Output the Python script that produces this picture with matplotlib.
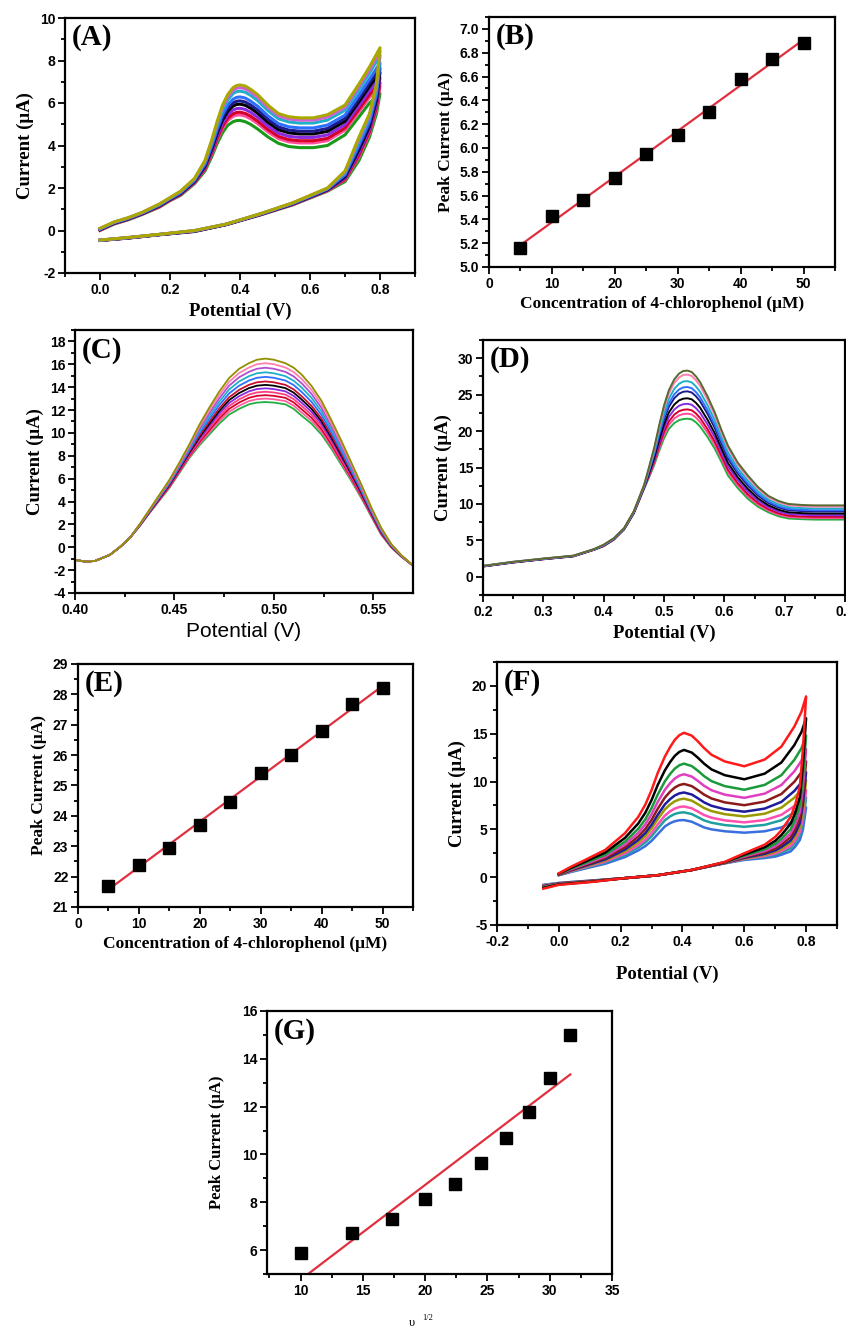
import numpy as np
import matplotlib
matplotlib.use('Agg')
import matplotlib.pyplot as plt
from matplotlib.ticker import MultipleLocator, AutoMinorLocator, FormatStrFormatter

plt.rcParams['font.family'] = ['Liberation Sans', 'DejaVu Sans']
plt.rcParams['font.weight'] = 'bold'
plt.rcParams['font.size'] = 10
plt.rcParams['axes.unicode_minus'] = False
SERIF = ['Liberation Serif', 'DejaVu Serif']

# ---------- calibration data (B, E, G) ----------
conc = [5, 10, 15, 20, 25, 30, 35, 40, 45, 50]
peakB = [5.16, 5.43, 5.56, 5.75, 5.95, 6.11, 6.30, 6.58, 6.75, 6.88]
peakE = [21.69, 22.37, 22.95, 23.71, 24.46, 25.40, 25.99, 26.79, 27.68, 28.22]
sqrt_rate = [10.0, 14.1, 17.3, 20.0, 22.4, 24.5, 26.5, 28.3, 30.05, 31.65]
peakG = [5.89, 6.70, 7.31, 8.12, 8.77, 9.66, 10.67, 11.78, 13.21, 15.0]

# ---------- (A) CV, lowest and highest traces ----------
potA_fwd = [0.0, 0.04, 0.08, 0.12, 0.17, 0.20, 0.23, 0.27, 0.30, 0.32, 0.335, 0.35,
            0.365, 0.38, 0.39, 0.40, 0.415, 0.43, 0.45, 0.48, 0.51, 0.54, 0.57, 0.61,
            0.65, 0.70, 0.74, 0.77, 0.80]
lowA_fwd = [0.0, 0.3, 0.5, 0.75, 1.1, 1.4, 1.65, 2.2, 2.8, 3.5, 4.1, 4.6,
            4.95, 5.12, 5.17, 5.18, 5.12, 5.0, 4.78, 4.4, 4.1, 3.95, 3.9, 3.9,
            4.0, 4.5, 5.35, 6.0, 6.45]
highA_fwd = [0.1, 0.4, 0.6, 0.85, 1.25, 1.55, 1.85, 2.45, 3.3, 4.3, 5.15, 5.9,
             6.4, 6.72, 6.82, 6.85, 6.8, 6.65, 6.4, 5.9, 5.5, 5.35, 5.3, 5.3,
             5.45, 5.9, 6.9, 7.7, 8.6]
potA_rev = [0.80, 0.79, 0.77, 0.74, 0.70, 0.65, 0.55, 0.46, 0.36, 0.27, 0.17, 0.08, 0.0]
lowA_rev = [6.45, 5.5, 4.4, 3.3, 2.3, 1.85, 1.2, 0.74, 0.27, -0.05, -0.2, -0.36, -0.47]
highA_rev = [8.6, 6.9, 5.5, 4.4, 2.8, 2.0, 1.3, 0.8, 0.3, 0.0, -0.18, -0.33, -0.45]
colorsA = ['#1a9a1a', '#ff4f9a', '#d4002a', '#8a2be2', '#000000', '#1c1c8c',
           '#2f6fff', '#1fb0c8', '#d35fd3', '#a8a800']

# ---------- (C) DPV ----------
potC = [0.400, 0.405, 0.410, 0.4175, 0.4225, 0.4275, 0.4325, 0.4375, 0.4425, 0.4475,
        0.4525, 0.4575, 0.4625, 0.4675, 0.4725, 0.4775, 0.4825, 0.4875, 0.4915, 0.4958,
        0.5000, 0.5058, 0.5100, 0.5140, 0.519, 0.524, 0.529, 0.534, 0.539, 0.544,
        0.549, 0.554, 0.559, 0.564, 0.570]
highC = [-1.1, -1.25, -1.2, -0.67, 0.0, 0.8, 2.0, 3.3, 4.6, 5.9,
         7.4, 9.0, 10.7, 12.2, 13.6, 14.8, 15.6, 16.1, 16.4, 16.5,
         16.4, 16.1, 15.7, 15.1, 14.1, 12.8, 11.1, 9.3, 7.4, 5.5,
         3.5, 1.7, 0.3, -0.67, -1.6]
lowC = [-1.1, -1.25, -1.2, -0.67, 0.0, 0.8, 1.85, 3.0, 4.1, 5.2,
        6.5, 7.8, 8.9, 9.85, 10.8, 11.6, 12.1, 12.5, 12.65, 12.7,
        12.65, 12.5, 12.1, 11.5, 10.8, 9.85, 8.6, 7.2, 5.8, 4.3,
        2.7, 1.1, 0.0, -0.8, -1.6]
peaksC = [12.7, 13.0, 13.3, 13.6, 13.9, 14.2, 14.5, 14.9, 15.3, 15.7, 16.1, 16.5]
colorsC = ['#20b040', '#ff5fa0', '#d4002a', '#ff3f7f', '#8a2be2', '#000000',
           '#c8102e', '#2f6fff', '#1fb0c8', '#b04fd0', '#ff80b0', '#909000']

# ---------- (D) DPV ----------
potD = [0.20, 0.25, 0.30, 0.35, 0.384, 0.40, 0.417, 0.434, 0.45, 0.467, 0.475, 0.484,
        0.492, 0.50, 0.508, 0.517, 0.525, 0.532, 0.539, 0.546, 0.553, 0.56, 0.572,
        0.584, 0.595, 0.606, 0.622, 0.639, 0.656, 0.673, 0.69, 0.706, 0.73, 0.75, 0.80]
highD = [1.5, 2.06, 2.5, 2.9, 3.8, 4.4, 5.3, 6.7, 9.0, 12.6, 15.0, 17.8,
         20.8, 23.5, 25.6, 27.1, 27.9, 28.25, 28.3, 28.1, 27.5, 26.7, 24.8,
         22.6, 20.2, 18.0, 15.7, 13.9, 12.3, 11.1, 10.4, 10.0, 9.85, 9.8, 9.8]
lowD = [1.4, 1.95, 2.4, 2.8, 3.7, 4.2, 5.1, 6.5, 8.7, 12.1, 13.6, 15.4,
        17.3, 19.0, 20.3, 21.1, 21.5, 21.65, 21.7, 21.6, 21.2, 20.6, 19.2,
        17.6, 15.8, 13.9, 12.2, 10.7, 9.6, 8.85, 8.3, 8.0, 7.9, 7.85, 7.85]
colorsD = ['#20b040', '#ff4f9a', '#d4002a', '#8a2be2', '#000000', '#1c1c8c',
           '#2f6fff', '#1fb0c8', '#ff80b0', '#556b2f']

# ---------- (F) CV at different scan rates ----------
potF_fwd = [0.0, 0.04, 0.085, 0.15, 0.214, 0.257, 0.28, 0.30, 0.32, 0.343, 0.36, 0.375,
            0.39, 0.405, 0.43, 0.45, 0.47, 0.494, 0.537, 0.60, 0.666, 0.72, 0.762, 0.785, 0.80]
highF_fwd = [0.4, 1.1, 1.8, 2.85, 4.6, 6.3, 7.6, 9.1, 10.9, 12.6, 13.6, 14.35,
             14.85, 15.1, 14.8, 14.2, 13.5, 12.8, 12.1, 11.6, 12.3, 13.65, 15.75, 17.3, 18.9]
lowF_fwd = [0.2, 0.55, 0.9, 1.4, 2.1, 2.8, 3.25, 3.8, 4.5, 5.3, 5.65, 5.85,
            5.95, 5.97, 5.8, 5.5, 5.2, 5.0, 4.8, 4.65, 4.8, 5.2, 5.9, 6.5, 7.3]
potF_rev = [0.80, 0.79, 0.78, 0.765, 0.75, 0.72, 0.70, 0.666, 0.60, 0.537, 0.43, 0.32,
            0.214, 0.106, 0.0, -0.05]
highF_rev = [18.9, 13.5, 9.5, 7.6, 6.3, 4.9, 4.2, 3.4, 2.5, 1.6, 0.75, 0.2,
             -0.1, -0.5, -0.8, -1.2]
lowF_rev = [7.3, 5.0, 3.9, 3.2, 2.7, 2.35, 2.15, 2.0, 1.8, 1.45, 0.75, 0.2,
            -0.1, -0.35, -0.6, -0.8]
colorsF = ['#3a6fe0', '#20a0a0', '#ff4fb0', '#9a9a00', '#1c1c9c', '#8b1a1a',
           '#e040c0', '#1a9a3a', '#000000', '#ff1a1a']

W, H = 846, 1329
fig = plt.figure(figsize=(W / 100, H / 100), dpi=100)


def add_axes(l, r, t, b):
    return fig.add_axes([l / W, 1 - b / H, (r - l) / W, (b - t) / H])


def style(ax, xmaj, ymaj, panel, xfmt=None, yfmt=None):
    ax.xaxis.set_major_locator(MultipleLocator(xmaj))
    ax.yaxis.set_major_locator(MultipleLocator(ymaj))
    ax.xaxis.set_minor_locator(AutoMinorLocator(2))
    ax.yaxis.set_minor_locator(AutoMinorLocator(2))
    if xfmt:
        ax.xaxis.set_major_formatter(FormatStrFormatter(xfmt))
    if yfmt:
        ax.yaxis.set_major_formatter(FormatStrFormatter(yfmt))
    ax.tick_params(which='both', direction='out', top=False, right=False,
                   width=1.3, labelsize=10, pad=2)
    ax.tick_params(which='major', length=5)
    ax.tick_params(which='minor', length=3)
    for s in ax.spines.values():
        s.set_linewidth(1.6)
    ax.text(0.02, 0.975, panel, transform=ax.transAxes, va='top', ha='left',
            fontsize=21, fontweight='bold', family=SERIF)


def blend(lo, hi, w):
    return np.asarray(lo) + w * (np.asarray(hi) - np.asarray(lo))


def serif_label(ax, xl, yl, xs=13.5, ys=13.5):
    ax.set_xlabel(xl, family=SERIF, fontsize=xs, fontweight='bold')
    ax.set_ylabel(yl, family=SERIF, fontsize=ys, fontweight='bold')


# (A)
ax = add_axes(65, 415, 18, 273)
wA = (np.array(peakB) - peakB[0]) / (peakB[-1] - peakB[0])
for w, c in zip(wA, colorsA):
    ax.plot(potA_fwd + potA_rev,
            np.concatenate([blend(lowA_fwd, highA_fwd, w), blend(lowA_rev, highA_rev, w)]),
            color=c, lw=2.2, solid_joinstyle='round')
ax.set_xlim(-0.1, 0.9)
ax.set_ylim(-2, 10)
style(ax, 0.2, 2, '(A)', xfmt='%.1f')
serif_label(ax, 'Potential (V)', 'Current (\u03bcA)')

# (B)
ax = add_axes(489, 835, 17, 267)
kB = np.polyfit(conc, peakB, 1)
ax.plot([conc[0], conc[-1]], np.polyval(kB, [conc[0], conc[-1]]), color='#e03040', lw=1.6)
ax.plot(conc, peakB, 's', color='black', ms=8.5)
ax.set_xlim(0, 55)
ax.set_ylim(5.0, 7.1)
style(ax, 10, 0.2, '(B)', yfmt='%.1f')
serif_label(ax, 'Concentration of 4-chlorophenol (\u03bcM)', 'Peak Current (\u03bcA)', 12.5, 12.5)

# (C)
ax = add_axes(75, 413, 330, 593)
wC = (np.array(peaksC) - peaksC[0]) / (peaksC[-1] - peaksC[0])
for w, c in zip(wC, colorsC):
    ax.plot(potC, blend(lowC, highC, w), color=c, lw=1.3, solid_joinstyle='round')
ax.set_xlim(0.40, 0.57)
ax.set_ylim(-4, 19)
style(ax, 0.05, 2, '(C)', xfmt='%.2f')
ax.set_xlabel('Potential (V)', fontsize=15, fontweight='normal')
ax.set_ylabel('Current (\u03bcA)', family=SERIF, fontsize=13.5, fontweight='bold')

# (D)
ax = add_axes(483, 845, 340, 595)
wD = (np.array(peakE) - peakE[0]) / (peakE[-1] - peakE[0])
for w, c in zip(wD, colorsD):
    ax.plot(potD, blend(lowD, highD, w), color=c, lw=1.4, solid_joinstyle='round')
ax.set_xlim(0.2, 0.8)
ax.set_ylim(-2.5, 32.5)
style(ax, 0.1, 5, '(D)', xfmt='%.1f')
serif_label(ax, 'Potential (V)', 'Current (\u03bcA)')

# (E)
ax = add_axes(78, 413, 664, 907)
kE = np.polyfit(conc, peakE, 1)
ax.plot([conc[0], conc[-1]], np.polyval(kE, [conc[0], conc[-1]]), color='#e03040', lw=1.6)
ax.plot(conc, peakE, 's', color='black', ms=8.5)
ax.set_xlim(0, 55)
ax.set_ylim(21, 29)
style(ax, 10, 1, '(E)')
serif_label(ax, 'Concentration of 4-chlorophenol (\u03bcM)', 'Peak Current (\u03bcA)', 12.5, 12.5)

# (F)
ax = add_axes(497, 837, 662, 925)
wF = (np.array(peakG) - peakG[0]) / (peakG[-1] - peakG[0])
for w, c in zip(wF, colorsF):
    ax.plot(potF_fwd + potF_rev,
            np.concatenate([blend(lowF_fwd, highF_fwd, w), blend(lowF_rev, highF_rev, w)]),
            color=c, lw=1.8, solid_joinstyle='round')
ax.set_xlim(-0.2, 0.9)
ax.set_ylim(-5, 22.5)
style(ax, 0.2, 5, '(F)', xfmt='%.1f')
serif_label(ax, 'Potential (V)', 'Current (\u03bcA)')
ax.xaxis.labelpad = 12

# (G)
ax = add_axes(267, 612, 1011, 1274)
kG = np.polyfit(sqrt_rate, peakG, 1)
ax.plot([sqrt_rate[0], sqrt_rate[-1]], np.polyval(kG, [sqrt_rate[0], sqrt_rate[-1]]),
        color='#e03040', lw=1.6)
ax.plot(sqrt_rate, peakG, 's', color='black', ms=8.5)
ax.set_xlim(7.3, 35)
ax.set_ylim(5, 16)
style(ax, 5, 2, '(G)')
ax.set_ylabel('Peak Current (\u03bcA)', family=SERIF, fontsize=12, fontweight='bold', labelpad=12)
fig.text(412 / W, 0.0, '\u03c5', family=SERIF, fontsize=9, fontweight='normal', ha='center', va='bottom')
fig.text(428 / W, 1 - 1322 / H, '1/2', family=SERIF, fontsize=6, fontweight='normal', ha='center', va='bottom')

fig.savefig('out.png', dpi=100)
